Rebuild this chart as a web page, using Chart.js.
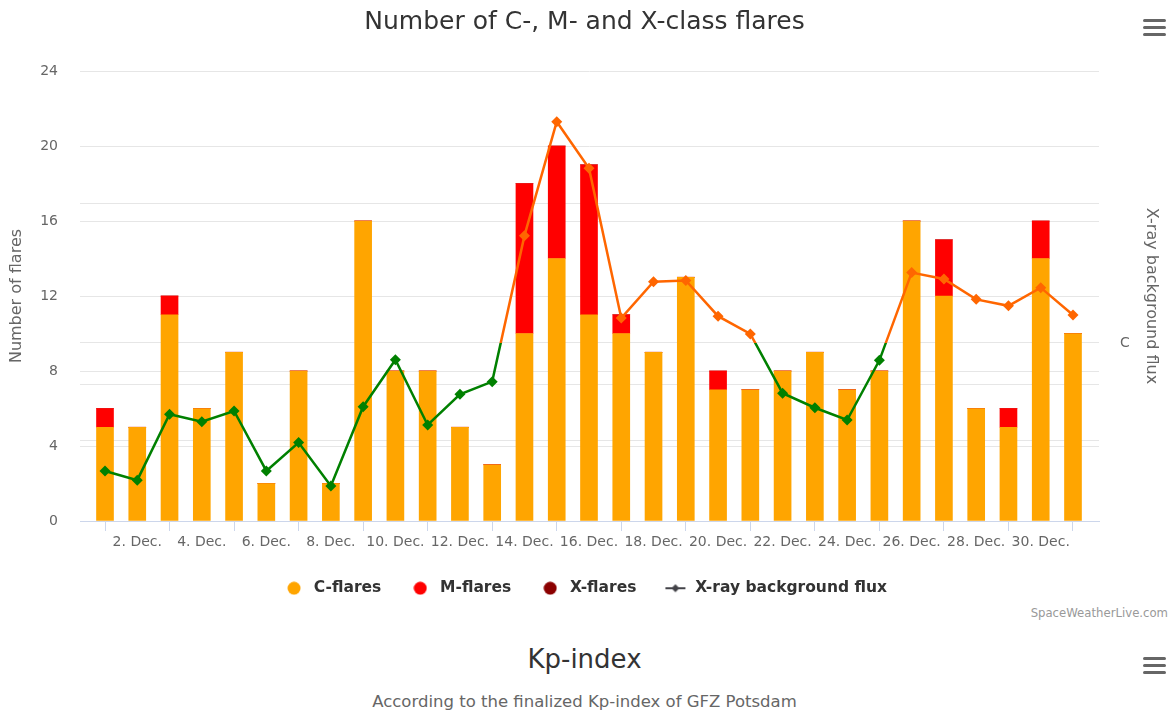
<!DOCTYPE html>
<html>
<head>
<meta charset="utf-8">
<script src="https://cdn.jsdelivr.net/npm/chart.js@4.4.1/dist/chart.umd.min.js"></script>
<style>
  html, body { margin:0; padding:0; background:#fff; }
  body { width:1169px; height:713px; overflow:hidden; position:relative; font-family:"DejaVu Sans", sans-serif; }
  #wrap { position:absolute; left:0; top:0; width:1169px; height:606px; }
  .menu { position:absolute; left:1143px; width:23px; }
  .menu div { height:3px; background:#666; border-radius:1.5px; margin-bottom:4px; }
  #credit { position:absolute; right:1px; top:606px; font-size:11.7px; color:#999; }
  #kpTitle { position:absolute; left:0; width:1169px; top:644px; text-align:center; font-size:26px; color:#333; }
  #kpSub { position:absolute; left:0; width:1169px; top:692px; text-align:center; font-size:16.5px; color:#666; }
</style>
</head>
<body>
<div id="wrap"><canvas id="c" width="1169" height="606"></canvas></div>
<div class="menu" style="top:19px"><div></div><div></div><div></div></div>
<div class="menu" style="top:657px"><div></div><div></div><div></div></div>
<div id="credit">SpaceWeatherLive.com</div>
<div id="kpTitle">Kp-index</div>
<div id="kpSub">According to the finalized Kp-index of GFZ Potsdam</div>
<script>
// ---- data ----
const days = [1,2,3,4,5,6,7,8,9,10,11,12,13,14,15,16,17,18,19,20,21,22,23,24,25,26,27,28,29,30,31];
const cFlares = [5,5,11,6,9,2,8,2,16,8,8,5,3,10,14,11,10,9,13,7,7,8,9,7,8,16,12,6,5,14,10];
const mFlares = [1,0,1,0,0,0,0,0,0,0,0,0,0,8,6,8,1,0,0,1,0,0,0,0,0,0,3,0,1,2,0];
const xFlares = [0,0,0,0,0,0,0,0,0,0,0,0,0,0,0,0,0,0,0,0,0,0,0,0,0,0,0,0,0,0,0];
const xrayFlux = [1.20e-7,1.03e-7,3.07e-7,2.71e-7,3.24e-7,1.20e-7,1.92e-7,9.35e-8,3.48e-7,7.58e-7,
                  2.57e-7,4.27e-7,5.27e-7,5.92e-6,3.91e-5,1.81e-5,1.51e-6,2.76e-6,2.82e-6,1.56e-6,
                  1.16e-6,4.35e-7,3.42e-7,2.79e-7,7.50e-7,3.21e-6,2.89e-6,2.06e-6,1.85e-6,2.50e-6,1.59e-6];
const tickDays = [2,4,6,8,10,12,14,16,18,20,22,24,26,28,30];
const countTicks = [0,4,8,12,16,20,24];
const fluxTicks = [2e-7,5e-7,1e-6,1e-5];
const cLevel = 1e-6;

const ORANGE_LINE = '#ff6600';
const GREEN_LINE = '#008000';

const toXY = arr => days.map((d, i) => ({x: d, y: arr[i]}));

// legend symbols
function circleSym(color) {
  const c = document.createElement('canvas');
  c.width = 14; c.height = 14;
  const g = c.getContext('2d');
  g.fillStyle = color;
  g.beginPath(); g.arc(7, 7, 6.5, 0, Math.PI * 2); g.fill();
  return c;
}
const lineSym = document.createElement('canvas');
lineSym.width = 22; lineSym.height = 10;
(function(){
  const g = lineSym.getContext('2d');
  g.strokeStyle = '#434348'; g.lineWidth = 2;
  g.beginPath(); g.moveTo(1,5); g.lineTo(21,5); g.stroke();
  g.fillStyle = '#434348';
  g.beginPath(); g.moveTo(11,1); g.lineTo(15,5); g.lineTo(11,9); g.lineTo(7,5); g.closePath(); g.fill();
})();

function lineGradient(ctx) {
  const chart = ctx.chart;
  const area = chart.chartArea;
  if (!area || !chart.scales.y1) return GREEN_LINE;
  const yT = chart.scales.y1.getPixelForValue(cLevel);
  let s = (yT - area.top) / (area.bottom - area.top);
  s = Math.min(1, Math.max(0, s));
  const g = chart.ctx.createLinearGradient(0, area.top, 0, area.bottom);
  g.addColorStop(0, ORANGE_LINE); g.addColorStop(s, ORANGE_LINE);
  g.addColorStop(s, GREEN_LINE); g.addColorStop(1, GREEN_LINE);
  return g;
}
const ptColor = ctx => (ctx.parsed && ctx.parsed.y >= cLevel) ? ORANGE_LINE : GREEN_LINE;

const FONT = '"DejaVu Sans", sans-serif';

new Chart(document.getElementById('c'), {
  data: {
    datasets: [
      { type:'bar', label:'C-flares', data: toXY(cFlares), backgroundColor:'#ffa500', yAxisID:'y', order:1, barThickness:17, borderWidth:0 },
      { type:'bar', label:'M-flares', data: toXY(mFlares), backgroundColor:'#ff0000', yAxisID:'y', order:1, barThickness:17, borderWidth:0 },
      { type:'bar', label:'X-flares', data: toXY(xFlares), backgroundColor:'#8b0000', yAxisID:'y', order:1, barThickness:17, borderWidth:0 },
      { type:'line', label:'X-ray background flux', data: toXY(xrayFlux), yAxisID:'y1', order:0,
        borderColor: lineGradient, borderWidth:2.5, tension:0, fill:false,
        pointStyle:'rectRot', pointRadius:5.5, pointBackgroundColor: ptColor, pointBorderColor: ptColor, pointBorderWidth:0,
        backgroundColor:'#434348' }
    ]
  },
  options: {
    responsive:false, animation:false, devicePixelRatio:1,
    layout:{ padding:0 },
    plugins: {
      title: { display:true, text:'Number of C-, M- and X-class flares', color:'#333',
               font:{ family:FONT, size:25, weight:'normal' }, padding:{ top:7, bottom:34 } },
      legend: { position:'bottom',
        labels: { usePointStyle:true, pointStyleWidth:24, boxHeight:12, padding:27, color:'#333',
                  font:{ family:FONT, size:15.5, weight:'bold' },
                  generateLabels: (chart) => chart.data.datasets.map((ds, i) => ({
                    text: ds.label, datasetIndex: i,
                    fillStyle: ds.type === 'line' ? '#434348' : ds.backgroundColor,
                    strokeStyle: ds.type === 'line' ? '#434348' : ds.backgroundColor,
                    lineWidth: 0, fontColor:'#333',
                    pointStyle: ds.type === 'line' ? lineSym : circleSym(ds.backgroundColor),
                    hidden: false
                  })) } },
      tooltip: { enabled:false }
    },
    scales: {
      x: { type:'linear', min:0.2252, max:31.806, offset:false, stacked:true,
           afterBuildTicks: s => { s.ticks = tickDays.map(v => ({value:v})); },
           afterFit: s => { s.height = 32.5; },
           ticks: { autoSkip:false, maxRotation:0, color:'#666', padding:3,
                    font:{ family:FONT, size:14 }, callback: v => v + '. Dec.' },
           grid: { drawOnChartArea:false, drawTicks:true, tickLength:10, color:'#ccd6eb' },
           border: { display:true, color:'#ccd6eb', width:1 } },
      y: { type:'linear', position:'left', min:0, max:24, stacked:true,
           afterBuildTicks: s => { s.ticks = countTicks.map(v => ({value:v})); },
           afterFit: s => { s.width = 80; },
           ticks: { color:'#666', padding:22, font:{ family:FONT, size:14 } },
           grid: { color:'#e6e6e6', drawTicks:false },
           border: { display:false },
           title: { display:true, text:'Number of flares', color:'#666', font:{ family:FONT, size:16 }, padding:{ top:7, bottom:0 } } },
      y1: { type:'logarithmic', position:'right', min:5.236e-8, max:9.057e-5,
            afterBuildTicks: s => { s.ticks = fluxTicks.map(v => ({value:v})); },
            afterFit: s => { s.width = 70; },
            ticks: { color:'#666', padding:21, font:{ family:FONT, size:14 },
                     callback: v => Math.abs(Math.log10(v) + 6) < 1e-6 ? 'C' : '' },
            grid: { color:'#e6e6e6', drawTicks:false },
            border: { display:false },
            title: { display:true, text:'X-ray background flux', color:'#666', font:{ family:FONT, size:16 }, padding:{ top:8, bottom:0 } } }
    }
  }
});
</script>
</body>
</html>
